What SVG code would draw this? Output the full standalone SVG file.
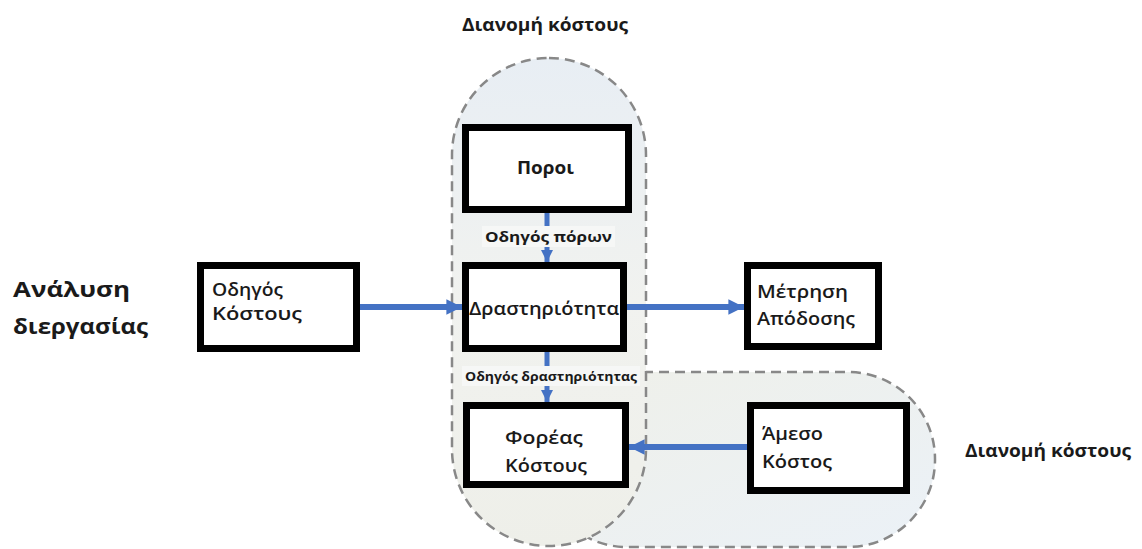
<svg xmlns="http://www.w3.org/2000/svg" width="1142" height="549" viewBox="0 0 1142 549">
<defs>
<linearGradient id="gv" x1="0" y1="0" x2="0" y2="1">
<stop offset="0" stop-color="#e8eef4"/>
<stop offset="0.5" stop-color="#f1f2ef"/>
<stop offset="1" stop-color="#eeefe9"/>
</linearGradient>
<linearGradient id="gh" x1="0" y1="0" x2="1" y2="1">
<stop offset="0" stop-color="#eff0e9"/>
<stop offset="1" stop-color="#ebf1f7"/>
</linearGradient>
<marker id="ah" viewBox="0 0 10 10" refX="10" refY="5" markerWidth="2.6" markerHeight="2.6" markerUnits="strokeWidth" orient="auto">
<path d="M0,0 L10,5 L0,10 Z" fill="#4472c4"/>
</marker>
<marker id="ahs" viewBox="0 0 10 10" refX="10" refY="5" markerWidth="2.4" markerHeight="2.4" markerUnits="strokeWidth" orient="auto">
<path d="M0,0 L10,5 L0,10 Z" fill="#4472c4"/>
</marker>
</defs>
<style>
.t{font-family:"Open Sans","Noto Sans","DejaVu Sans",sans-serif;fill:#1a1a1a;font-weight:bold}
.m{font-weight:600}
.box{fill:#ffffff;stroke:#000;stroke-width:7}
.pill{stroke:#888;stroke-width:2.5;stroke-dasharray:10 6}
.con{stroke:#4472c4;stroke-width:6;fill:none}
.cons{stroke:#4472c4;stroke-width:5;fill:none}
.bg{fill:#f6f7f6}
</style>
<rect width="1142" height="549" fill="#ffffff"/>

<g id="region-horizontal">
<rect class="pill" x="540" y="372" width="395" height="175" rx="87" fill="url(#gh)"/>
</g>
<g id="region-vertical">
<rect class="pill" x="452" y="58" width="194" height="488" rx="97" fill="url(#gv)"/>
</g>

<g id="labels">
<text class="t" x="462" y="31" font-size="17" textLength="166" lengthAdjust="spacingAndGlyphs">Διανομή κόστους</text>
<text class="t" x="965" y="457" font-size="17" textLength="166" lengthAdjust="spacingAndGlyphs">Διανομή κόστους</text>
<text class="t" x="13" y="297" font-size="22" textLength="117" lengthAdjust="spacingAndGlyphs">Ανάλυση</text>
<text class="t" x="13" y="334" font-size="22" textLength="135" lengthAdjust="spacingAndGlyphs">διεργασίας</text>
</g>

<g id="connectors">
<line class="con" x1="360" y1="307" x2="462" y2="307" marker-end="url(#ah)"/>
<line class="con" x1="627" y1="307" x2="744" y2="307" marker-end="url(#ah)"/>
<line class="con" x1="747" y1="447" x2="629" y2="447" marker-end="url(#ah)"/>
<line class="cons" x1="547" y1="213" x2="547" y2="262" marker-end="url(#ahs)"/>
<line class="cons" x1="547" y1="352" x2="547" y2="402" marker-end="url(#ahs)"/>
<rect class="bg" x="482" y="226" width="133" height="21"/>
<text class="t" x="485" y="242" font-size="14" textLength="127" lengthAdjust="spacingAndGlyphs">Οδηγός πόρων</text>
<rect class="bg" x="462" y="366" width="178" height="20"/>
<text class="t" x="465" y="381" font-size="12.5" textLength="172" lengthAdjust="spacingAndGlyphs">Οδηγός δραστηριότητας</text>
</g>

<g id="node-poroi">
<rect class="box" x="465.5" y="127.5" width="163" height="82"/>
<text class="t" x="517" y="174" font-size="17" textLength="57" lengthAdjust="spacingAndGlyphs">Ποροι</text>
</g>
<g id="node-drastiriotita">
<rect class="box" x="465.5" y="265.5" width="158" height="83"/>
<text class="t m" x="469" y="315" font-size="18" textLength="150" lengthAdjust="spacingAndGlyphs">Δραστηριότητα</text>
</g>
<g id="node-foreas">
<rect class="box" x="466.5" y="405.5" width="159" height="79"/>
<text class="t m" x="505" y="444" font-size="18.5" textLength="78" lengthAdjust="spacingAndGlyphs">Φορέας</text>
<text class="t m" x="505" y="472" font-size="18.5" textLength="82" lengthAdjust="spacingAndGlyphs">Κόστους</text>
</g>
<g id="node-odigos">
<rect class="box" x="200.5" y="265.5" width="156" height="83"/>
<text class="t m" x="212" y="296" font-size="17.5" textLength="71" lengthAdjust="spacingAndGlyphs">Οδηγός</text>
<text class="t m" x="212" y="320" font-size="17.5" textLength="90" lengthAdjust="spacingAndGlyphs">Κόστους</text>
</g>
<g id="node-metrisi">
<rect class="box" x="747.5" y="265.5" width="131" height="81"/>
<text class="t m" x="757" y="298" font-size="18.5" textLength="91" lengthAdjust="spacingAndGlyphs">Μέτρηση</text>
<text class="t m" x="757" y="325" font-size="18.5" textLength="98" lengthAdjust="spacingAndGlyphs">Απόδοσης</text>
</g>
<g id="node-ameso">
<rect class="box" x="750.5" y="405.5" width="156" height="85"/>
<text class="t m" x="762" y="440" font-size="18.5" textLength="61" lengthAdjust="spacingAndGlyphs">Άμεσο</text>
<text class="t m" x="762" y="468" font-size="18.5" textLength="70" lengthAdjust="spacingAndGlyphs">Κόστος</text>
</g>
</svg>
